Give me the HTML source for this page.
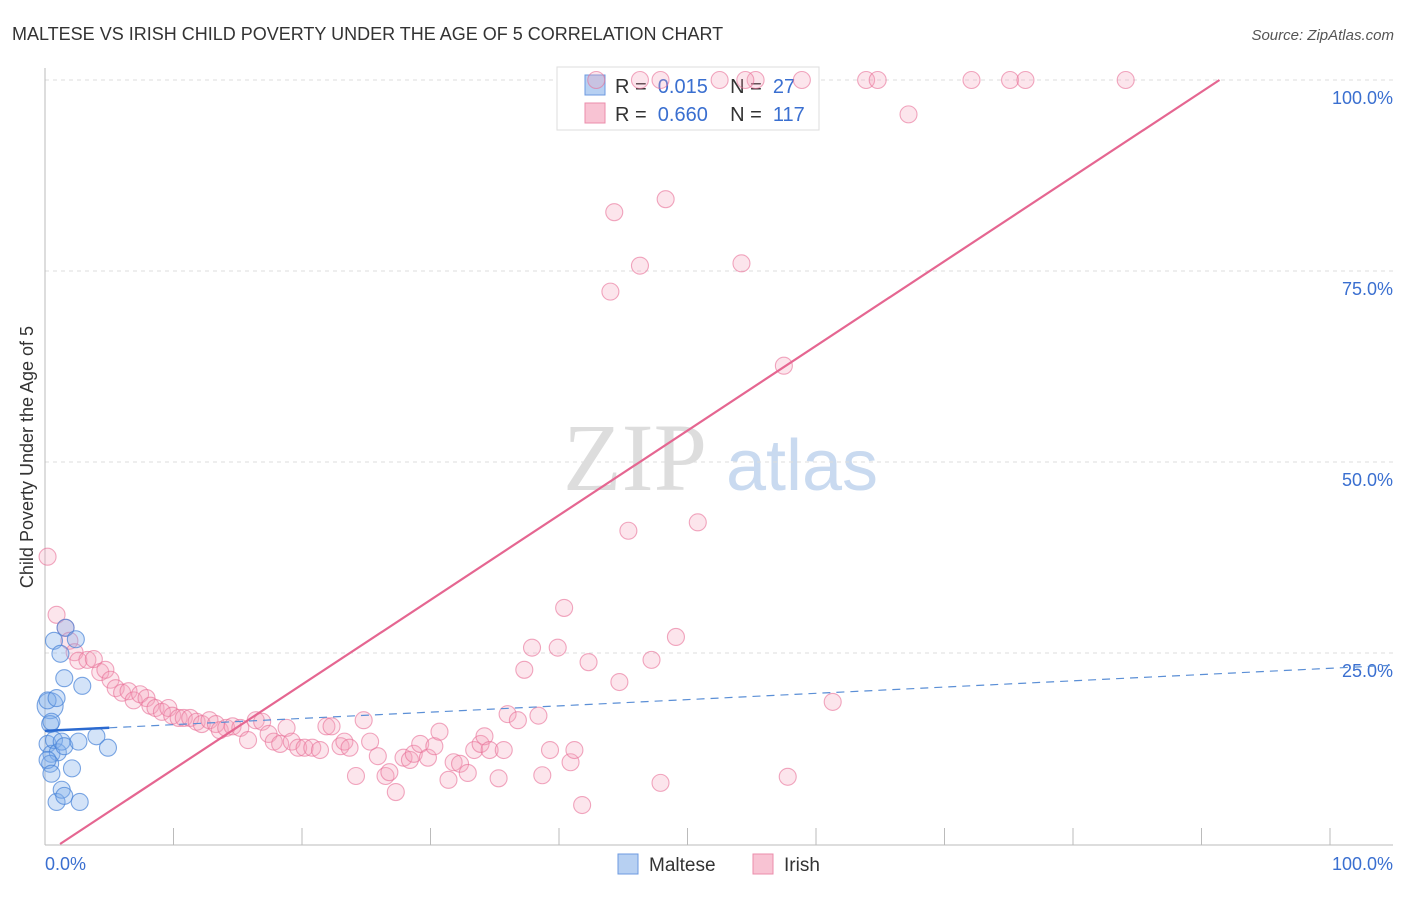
<!DOCTYPE html>
<html><head><meta charset="utf-8"><style>
body{margin:0;background:#fff;font-family:"Liberation Sans",sans-serif}
</style></head><body>
<svg id="c" width="1406" height="892" xmlns="http://www.w3.org/2000/svg" style="font-family:'Liberation Sans',sans-serif">
<text x="12" y="40" font-size="18" fill="#333">MALTESE VS IRISH CHILD POVERTY UNDER THE AGE OF 5 CORRELATION CHART</text>
<text x="1394" y="40" font-size="15" fill="#555" text-anchor="end" font-style="italic">Source: ZipAtlas.com</text>
<text x="0" y="0" transform="translate(33,457) rotate(-90)" font-size="18" fill="#333" text-anchor="middle">Child Poverty Under the Age of 5</text>
<g id="wm"><text x="635" y="490" font-size="96" font-family="Liberation Serif" fill="#ddd" text-anchor="middle">ZIP</text><text x="802" y="490" font-size="72" fill="#c9daf0" text-anchor="middle">atlas</text></g>
<g id="grid"></g><g id="axes"></g>
<g>
<rect x="557" y="67" width="262" height="63" fill="#fff" stroke="#ddd"/>
<rect x="585" y="75" width="20" height="20" fill="#b7d0f2" stroke="#6c9ae0"/>
<rect x="585" y="103" width="20" height="20" fill="#f8c3d3" stroke="#eb8cab"/>
<text x="615" y="93" font-size="20" fill="#333" xml:space="preserve">R =  <tspan fill="#3a6fd0">0.015</tspan>    N =  <tspan fill="#3a6fd0">27</tspan></text>
<text x="615" y="121" font-size="20" fill="#333" xml:space="preserve">R =  <tspan fill="#3a6fd0">0.660</tspan>    N =  <tspan fill="#3a6fd0">117</tspan></text>
</g>
<g id="pts"></g><g id="trend"></g>
<g>
<rect x="618" y="854" width="20" height="20" fill="#b7d0f2" stroke="#6c9ae0"/>
<text x="649" y="871" font-size="19" fill="#333">Maltese</text>
<rect x="753" y="854" width="20" height="20" fill="#f8c3d3" stroke="#eb8cab"/>
<text x="784" y="871" font-size="19" fill="#333">Irish</text>
</g>
</svg>
<script>
const yTicks=[25,50,75,100];
const yTickLabels=["25.0%","50.0%","75.0%","100.0%"];
const xTickLabels=["0.0%","100.0%"];
const irishX=[0.2,0.9,1.6,1.9,2.3,2.6,3.3,3.8,4.3,4.7,5.1,5.5,6.0,6.5,6.9,7.4,7.9,8.2,8.6,9.1,9.6,9.9,10.4,10.8,11.3,11.8,12.2,12.8,13.3,13.6,14.1,14.6,15.2,15.8,16.4,16.9,17.4,17.8,18.3,18.8,19.2,19.7,20.2,20.8,21.4,21.9,22.3,23.0,23.3,23.7,24.2,24.8,25.3,25.9,26.5,26.8,27.3,27.9,28.4,28.7,29.2,29.8,30.3,30.7,31.4,31.8,32.3,32.9,33.4,33.9,34.2,34.6,35.3,35.7,36.0,36.8,37.3,37.9,38.4,38.7,39.3,39.9,40.4,40.9,41.2,41.8,42.3,44.7,44.0,44.3,45.4,46.3,47.2,47.9,48.3,49.1,50.8,54.2,57.5,57.8,61.3,67.2,63.9,64.8,72.1,75.1,76.3,84.1,42.9,46.3,52.5,55.3,58.9,47.9,54.5];
const irishY=[37.6,30.0,28.3,26.6,25.1,24.0,24.1,24.2,22.5,22.8,21.5,20.4,19.8,20.0,18.8,19.6,19.1,18.1,17.8,17.3,17.8,16.8,16.5,16.5,16.5,16.0,15.7,16.2,15.7,14.9,15.2,15.4,15.2,13.6,16.2,16.0,14.4,13.4,13.1,15.2,13.4,12.6,12.6,12.6,12.3,15.4,15.4,12.8,13.4,12.6,8.9,16.2,13.4,11.5,8.9,9.4,6.8,11.3,11.0,11.8,13.1,11.3,12.8,14.7,8.4,10.7,10.5,9.3,12.3,13.1,14.1,12.3,8.6,12.3,17.0,16.2,22.8,25.7,16.8,9.0,12.3,25.7,30.9,10.7,12.3,5.1,23.8,21.2,72.3,82.7,41.0,75.7,24.1,8.0,84.4,27.1,42.1,76.0,62.6,8.8,18.6,95.5,100,100,100,100,100,100,100,100,100,100,100,100,100];
const maltX=[0.4,0.2,0.4,0.5,0.9,0.2,0.5,0.7,1.0,0.4,0.2,0.5,0.9,1.3,1.5,2.7,1.3,1.5,2.1,2.6,4.0,4.9,0.7,1.2,1.6,2.4,1.5,2.9];
const maltY=[18.1,18.8,15.7,16.0,19.1,13.1,11.8,13.6,12.0,10.5,11.0,9.2,5.5,7.1,6.3,5.5,13.4,12.8,9.9,13.4,14.1,12.6,26.6,24.9,28.3,26.8,21.7,20.7];
const irishTrend=[1.17,0,91.4,100];
const maltTrend=[0,14.8,100,23.0];
const NS="http://www.w3.org/2000/svg";
const X=v=>45+v*12.85, Y=v=>844-v*7.64;
function mk(t,a,p){const e=document.createElementNS(NS,t);for(const k in a)e.setAttribute(k,a[k]);document.getElementById(p).appendChild(e);return e;}
yTicks.forEach((t,i)=>{
 const g=mk('line',{x1:45,x2:1393,y1:Y(t),y2:Y(t),stroke:'#ddd','stroke-dasharray':'4,4'},'grid');
 
 
 const l=mk('text',{x:1393,y:Y(t)+24,'font-size':18,fill:'#3a6fd0','text-anchor':'end'},'axes');
 l.textContent=yTickLabels[i];
 
 
});
const ya=mk('line',{x1:45,x2:45,y1:68,y2:845,stroke:'#bbb'},'axes');


const xa=mk('line',{x1:45,x2:1393,y1:845,y2:845,stroke:'#bbb'},'axes');


for(let i=1;i<=10;i++){const t=mk('line',{x1:X(i*10),x2:X(i*10),y1:828,y2:845,stroke:'#bbb'},'axes');
 
 }
[[0,'start',45],[100,'end',1393]].forEach((d,i)=>{const l=mk('text',{x:d[2],y:870,'font-size':18,fill:'#3a6fd0','text-anchor':d[1]},'axes');l.textContent=xTickLabels[i];
 
 });
irishX.forEach((v,i)=>{const c=mk('circle',{cx:X(v),cy:Y(irishY[i]),r:8.5,fill:'rgba(244,160,188,0.28)',stroke:'rgba(232,110,150,0.6)','stroke-width':1.1},'pts');
 
 });
maltX.forEach((v,i)=>{const c=mk('circle',{cx:X(v),cy:Y(maltY[i]),r:i==0?13:8.5,fill:'rgba(130,175,235,0.35)',stroke:'rgba(70,130,215,0.7)','stroke-width':1.1},'pts');
 
 });
const it=mk('line',{x1:X(irishTrend[0]),y1:Y(irishTrend[1]),x2:X(irishTrend[2]),y2:Y(irishTrend[3]),stroke:'#e56691','stroke-width':2.2},'trend');


const my=x=>maltTrend[1]+(maltTrend[3]-maltTrend[1])*x/100;
const md=mk('line',{x1:X(5),y1:Y(my(5)),x2:1393,y2:Y(my((1393-45)/12.85)),stroke:'#5b8fd6','stroke-width':1.2,'stroke-dasharray':'8,6'},'trend');


const ms=mk('line',{x1:X(0),y1:Y(my(0)),x2:X(5),y2:Y(my(5)),stroke:'#2b6ad0','stroke-width':2.5},'trend');


</script>
</body></html>
